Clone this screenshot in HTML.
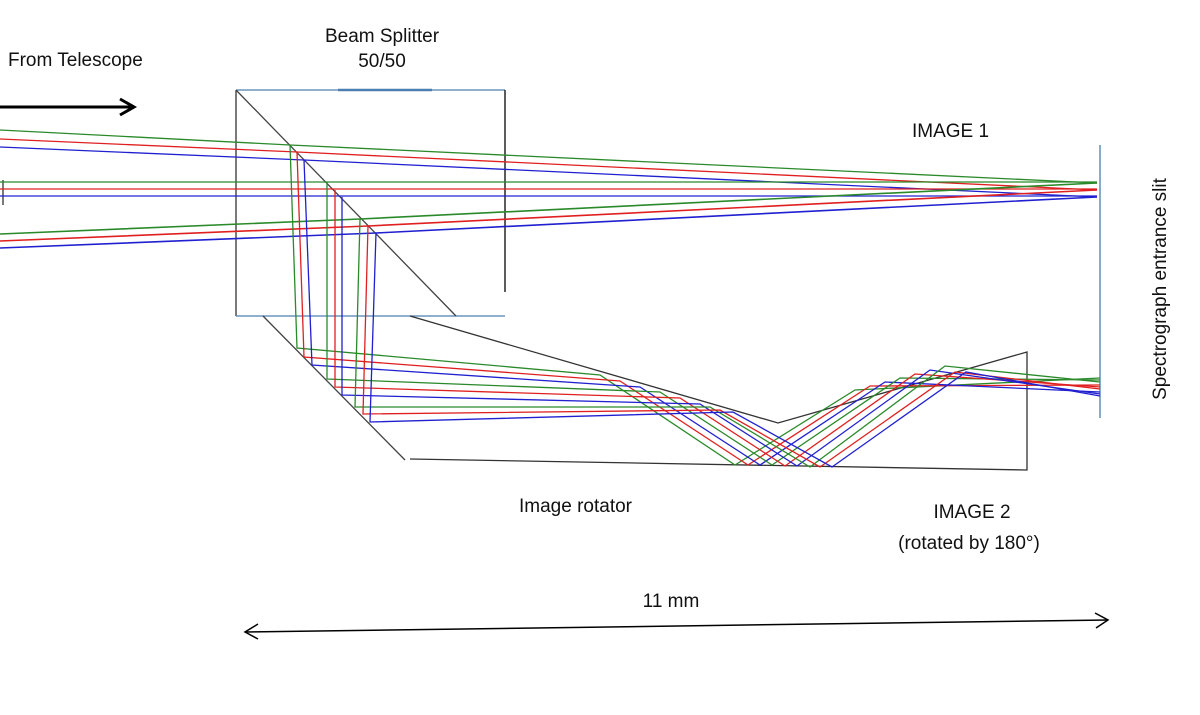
<!DOCTYPE html>
<html><head><meta charset="utf-8"><style>
body{margin:0;background:#fff;}
svg{display:block;font-family:"Liberation Sans",sans-serif;}
text{font-size:19px;fill:#111;}
</style></head><body>
<svg width="1200" height="715" viewBox="0 0 1200 715">
<g fill="none" stroke-width="1.3">
<!-- beam splitter -->
<line x1="236" y1="90" x2="505" y2="90" stroke="#4a7fb0"/>
<line x1="338" y1="90" x2="432" y2="90" stroke="#4a7fb0" stroke-width="2.5"/>
<line x1="236" y1="90" x2="236" y2="316" stroke="#333"/>
<line x1="505" y1="90" x2="505" y2="292" stroke="#333" stroke-width="1.6"/>
<line x1="236" y1="316" x2="505" y2="316" stroke="#4a7fb0"/>
<line x1="236" y1="90" x2="456" y2="316" stroke="#444"/>
<!-- rotator -->
<line x1="263" y1="316" x2="405" y2="460" stroke="#444"/>
<polyline points="410,459 1027,470 1027,352 778,423 410,316" stroke="#333"/>
<!-- slit -->
<line x1="1100" y1="145" x2="1100" y2="418" stroke="#4a7fb0"/>
<line x1="3" y1="180" x2="3" y2="205" stroke="#333"/>
<!-- input rays -->
<polyline points="0,130 290,145 1097,183" stroke="#2a8a2a"/>
<polyline points="0,139 297,152 1097,190" stroke="#e02020"/>
<polyline points="0,147 304,160 1097,197" stroke="#2020d0"/>
<line x1="0" y1="182" x2="1097" y2="182" stroke="#2a8a2a"/>
<line x1="0" y1="189" x2="1097" y2="189" stroke="#e02020"/>
<line x1="0" y1="196" x2="1097" y2="196" stroke="#2020d0"/>
<polyline points="0,234 360,219 1097,183" stroke="#2a8a2a" stroke-width="1.6"/>
<polyline points="0,241 368,226 1097,190" stroke="#e02020" stroke-width="1.6"/>
<polyline points="0,248 376,233 1097,197" stroke="#2020d0" stroke-width="1.6"/>
<!-- reflected rays -->
<polyline points="290,145 297,348 600,375 735,465 855,390 1100,378" stroke="#2a8a2a"/>
<polyline points="297,152 304,357 620,381 748,465 870,386 1100,385" stroke="#e02020"/>
<polyline points="304,160 312,365 640,387 760,465 885,382 1100,392" stroke="#2020d0"/>
<polyline points="327,182 327,379 660,392 772,465 900,378 1100,380" stroke="#2a8a2a"/>
<polyline points="335,190 335,387 680,398 785,466 915,374 1100,387" stroke="#e02020"/>
<polyline points="342,197 342,395 700,404 797,466 930,370 1100,394" stroke="#2020d0"/>
<polyline points="360,219 355,407 710,407 810,467 945,366 1100,382" stroke="#2a8a2a"/>
<polyline points="368,226 363,414 720,410 820,467 955,372 1100,389" stroke="#e02020"/>
<polyline points="376,233 370,422 733,412 832,467 966,372 1100,396" stroke="#2020d0"/>
<!-- 11mm arrow -->
<line x1="245" y1="632" x2="1108" y2="620" stroke="#000" stroke-width="1.5"/>
<polyline points="258,624 245,632 258,639" stroke="#000" stroke-width="1.5"/>
<polyline points="1095,613 1108,620 1096,628" stroke="#000" stroke-width="1.5"/>
<!-- telescope arrow -->
<line x1="0" y1="107" x2="133" y2="107" stroke="#000" stroke-width="3"/>
<polyline points="120,99 134,107 120,115" stroke="#000" stroke-width="3"/>
</g>
<text x="8" y="66">From Telescope</text>
<text x="382" y="42" text-anchor="middle">Beam Splitter</text>
<text x="382" y="67" text-anchor="middle">50/50</text>
<text x="912" y="137">IMAGE 1</text>
<text x="519" y="512">Image rotator</text>
<text x="972" y="518" text-anchor="middle">IMAGE 2</text>
<text x="969" y="549" text-anchor="middle">(rotated by 180°)</text>
<text x="671" y="607" text-anchor="middle">11 mm</text>
<text transform="translate(1166,289) rotate(-90)" text-anchor="middle">Spectrograph entrance slit</text>
</svg>
</body></html>
